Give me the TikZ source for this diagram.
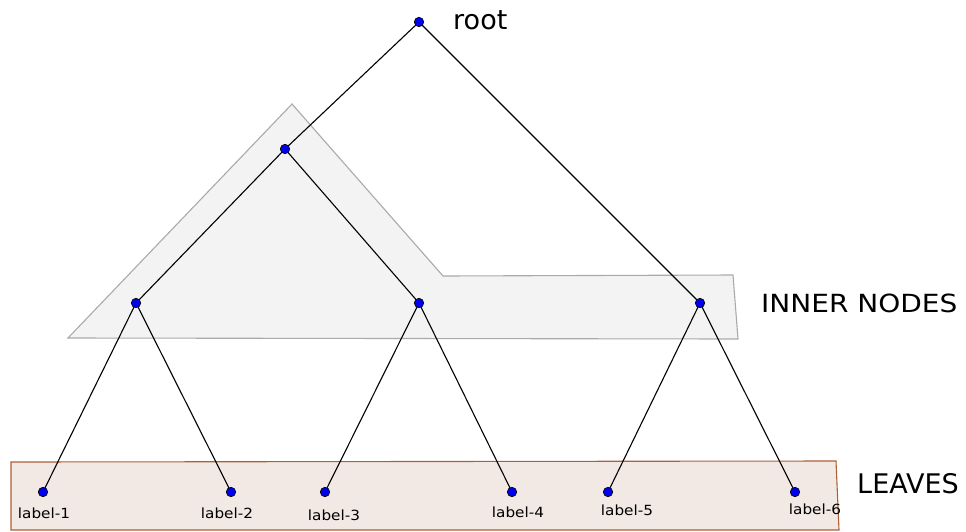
\documentclass[tikz,border=0pt]{standalone}
\usepackage{fontspec}
\usepackage{graphicx}
\setmainfont{DejaVu Sans}
\definecolor{polyfill}{RGB}{243,243,243}
\definecolor{polyline}{RGB}{170,170,170}
\definecolor{leaffill}{RGB}{243,233,228}
\definecolor{leafline}{RGB}{175,95,55}
\definecolor{dotblue}{RGB}{0,0,235}
\begin{document}
\begin{tikzpicture}[x=1pt,y=-1pt,
  dot/.style={circle,fill=dotblue,draw=black,line width=0.6pt,inner sep=0pt,minimum size=9.5pt},
  edge/.style={draw=black,line width=1.1pt},
  leaflabel/.style={anchor=base,font=\fontsize{14}{16}\selectfont,inner sep=0pt},
  bigtext/.style={anchor=base west,inner sep=0pt}]
\useasboundingbox (0,0) rectangle (966,531);
% inner nodes region
\filldraw[fill=polyfill,draw=polyline,line width=1.1pt]
  (68,338) -- (292,104) -- (443,276) -- (733,275) -- (738,339) -- cycle;
% leaves region
\filldraw[fill=leaffill,draw=leafline,line width=1.1pt]
  (11,462) -- (836,461) -- (839,530) -- (11,530) -- cycle;
% edges
\coordinate (cr) at (419,22);
\coordinate (ca) at (285,149);
\coordinate (cb) at (136,303);
\coordinate (cc) at (419,303);
\coordinate (cd) at (700,303);
\coordinate (c1) at (43,492);
\coordinate (c2) at (231,492);
\coordinate (c3) at (325,492);
\coordinate (c4) at (512,492);
\coordinate (c5) at (608,492);
\coordinate (c6) at (795,492);
\draw[edge] (cr) -- (ca);
\draw[edge] (cr) -- (cd);
\draw[edge] (ca) -- (cb);
\draw[edge] (ca) -- (cc);
\draw[edge] (cb) -- (c1);
\draw[edge] (cb) -- (c2);
\draw[edge] (cc) -- (c3);
\draw[edge] (cc) -- (c4);
\draw[edge] (cd) -- (c5);
\draw[edge] (cd) -- (c6);
% nodes
\node[dot] (r) at (cr) {};
\node[dot] (a) at (ca) {};
\node[dot] (b) at (cb) {};
\node[dot] (c) at (cc) {};
\node[dot] (d) at (cd) {};
\node[dot] (l1) at (c1) {};
\node[dot] (l2) at (c2) {};
\node[dot] (l3) at (c3) {};
\node[dot] (l4) at (c4) {};
\node[dot] (l5) at (c5) {};
\node[dot] (l6) at (c6) {};
% leaf labels
\node[leaflabel] (t1) at (44,518) {\scalebox{1.09}[1]{label-1}};
\node[leaflabel] (t2) at (227,518) {\scalebox{1.09}[1]{label-2}};
\node[leaflabel] (t3) at (334,520) {\scalebox{1.09}[1]{label-3}};
\node[leaflabel] (t4) at (518,517) {\scalebox{1.09}[1]{label-4}};
\node[leaflabel] (t5) at (627,515) {\scalebox{1.09}[1]{label-5}};
\node[leaflabel] (t6) at (815,514) {\scalebox{1.09}[1]{label-6}};
% titles
\node[bigtext,font=\fontsize{27}{30}\selectfont] (troot) at (453,29) {root};
\node[bigtext,font=\fontsize{25}{30}\selectfont] (tinner) at (761,312) {\scalebox{1.12}[1]{INNER NODES}};
\node[bigtext,font=\fontsize{27}{30}\selectfont] (tleaves) at (857,493) {LEAVES};
\end{tikzpicture}
\end{document}
